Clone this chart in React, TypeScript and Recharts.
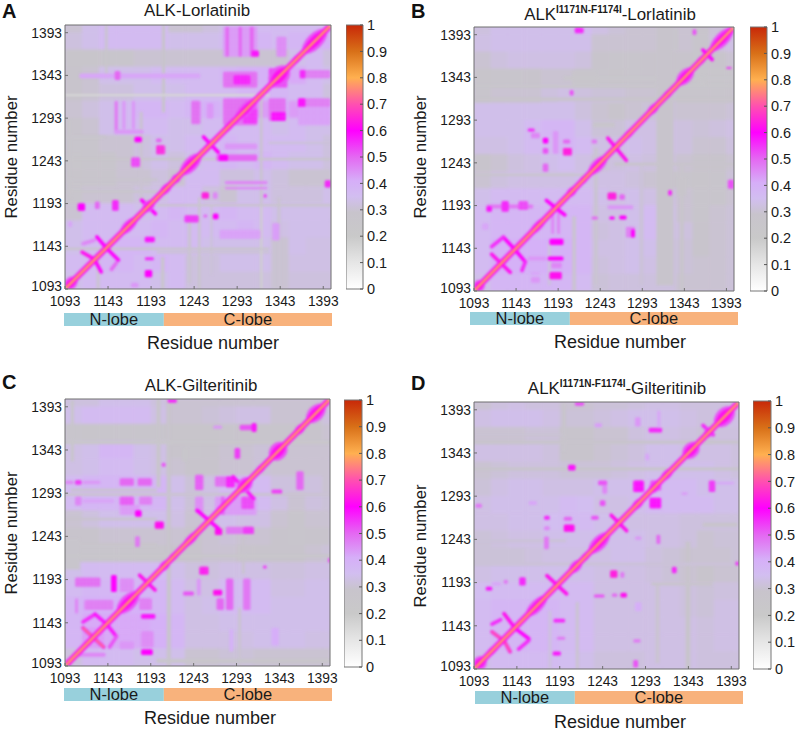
import {Bar, BarChart, LabelList, Scatter, ScatterChart, XAxis, YAxis} from 'recharts';

const FONT = '"Liberation Sans", Arial, sans-serif';
const RES_MIN = 1093;
const RES_MAX = 1402;
const CELL = 20;

const residueTicks = [1093, 1143, 1193, 1243, 1293, 1343, 1393];
const colorTicks = [0, 0.1, 0.2, 0.3, 0.4, 0.5, 0.6, 0.7, 0.8, 0.9, 1];
const colorStops: [number, string][] = [
  [0, '#ffffff'], [10, '#e6e6e6'], [20, '#c9c9c9'], [29, '#c8c4cc'], [35, '#d2bef0'], [41, '#d6aef8'],
  [50, '#e468f2'], [60, '#ff00ff'], [70, '#ff50b0'], [80, '#ffb050'], [90, '#d87018'], [100, '#c82808'],
];
const lobes = [{name: 'row', nLobe: 115.5, cLobe: 194.5}];

// background, 20 residue blocks, top row first (x 1093 -> 1402), values x100
const gridA = [
  [30, 34, 36, 36, 36, 36, 30, 30, 32, 34, 36, 36, 36, 36, 36, 38],
  [32, 34, 36, 36, 36, 36, 34, 34, 34, 36, 38, 38, 36, 38, 38, 40],
  [27, 27, 28, 28, 30, 30, 30, 30, 30, 30, 30, 30, 30, 34, 36, 32],
  [29, 30, 34, 34, 34, 36, 36, 36, 36, 38, 40, 40, 36, 42, 36, 34],
  [29, 30, 32, 32, 34, 34, 34, 36, 36, 36, 38, 38, 38, 36, 36, 32],
  [30, 32, 34, 36, 38, 38, 36, 38, 40, 38, 44, 44, 40, 44, 38, 36],
  [29, 30, 34, 36, 36, 36, 34, 34, 36, 36, 36, 36, 34, 36, 34, 34],
  [28, 28, 30, 30, 32, 34, 34, 36, 36, 38, 36, 36, 36, 36, 34, 32],
  [26, 28, 28, 30, 32, 34, 32, 34, 36, 38, 36, 38, 36, 34, 34, 32],
  [27, 28, 28, 30, 30, 32, 30, 36, 36, 32, 32, 34, 32, 30, 30, 30],
  [28, 30, 30, 30, 32, 33, 36, 36, 32, 30, 34, 34, 32, 32, 32, 34],
  [30, 36, 36, 36, 34, 36, 38, 36, 36, 38, 36, 36, 34, 34, 34, 34],
  [34, 36, 36, 36, 36, 38, 36, 36, 36, 36, 38, 36, 33, 34, 34, 34],
  [34, 36, 36, 38, 38, 36, 36, 36, 34, 34, 34, 34, 30, 34, 33, 33],
  [36, 36, 38, 38, 36, 38, 36, 32, 32, 34, 34, 34, 30, 33, 33, 33],
  [34, 36, 36, 36, 36, 34, 36, 32, 32, 32, 32, 32, 30, 32, 32, 32],
];
const gridB = [
  [32, 34, 34, 34, 34, 34, 36, 33, 31, 30, 30, 31, 30, 29, 31, 32],
  [33, 34, 34, 34, 34, 34, 34, 30, 30, 30, 30, 30, 30, 28, 32, 33],
  [30, 32, 33, 33, 33, 33, 32, 29, 28, 28, 29, 29, 29, 28, 29, 30],
  [27, 28, 28, 29, 30, 30, 29, 28, 27, 28, 29, 28, 28, 26, 26, 27],
  [28, 30, 30, 30, 32, 33, 32, 31, 31, 30, 30, 31, 28, 28, 28, 29],
  [34, 34, 34, 34, 34, 34, 32, 30, 29, 30, 31, 31, 30, 30, 30, 31],
  [34, 34, 34, 36, 38, 38, 34, 31, 31, 33, 33, 33, 32, 31, 32, 33],
  [33, 33, 34, 36, 36, 38, 36, 33, 33, 34, 33, 33, 32, 30, 30, 32],
  [29, 30, 32, 33, 34, 35, 33, 31, 32, 33, 32, 32, 30, 29, 29, 30],
  [30, 32, 33, 33, 33, 33, 34, 33, 33, 32, 30, 29, 28, 27, 28, 31],
  [34, 36, 36, 36, 36, 36, 36, 34, 33, 34, 33, 33, 30, 28, 28, 30],
  [36, 38, 38, 38, 38, 38, 38, 33, 33, 34, 36, 34, 30, 28, 30, 31],
  [36, 38, 38, 38, 38, 38, 38, 32, 33, 34, 36, 33, 32, 29, 30, 31],
  [36, 40, 40, 40, 40, 40, 38, 33, 33, 34, 34, 32, 31, 29, 30, 31],
  [36, 40, 40, 40, 40, 40, 38, 32, 33, 34, 33, 32, 31, 30, 30, 31],
  [34, 38, 38, 38, 38, 38, 36, 31, 32, 32, 32, 32, 30, 30, 30, 31],
];
const gridC = [
  [32, 32, 34, 34, 34, 32, 30, 30, 30, 30, 30, 30, 30, 30, 30, 32],
  [34, 36, 36, 36, 36, 33, 30, 30, 31, 32, 33, 33, 30, 30, 30, 32],
  [28, 27, 28, 28, 28, 28, 27, 27, 27, 28, 29, 28, 28, 28, 29, 30],
  [33, 34, 38, 38, 34, 33, 29, 28, 29, 30, 30, 31, 30, 30, 30, 30],
  [33, 34, 36, 36, 34, 33, 30, 29, 29, 30, 30, 31, 30, 30, 30, 30],
  [36, 38, 38, 38, 38, 38, 34, 31, 33, 36, 37, 36, 32, 32, 32, 30],
  [36, 38, 38, 38, 38, 38, 34, 31, 33, 38, 38, 36, 33, 30, 32, 31],
  [30, 32, 34, 34, 34, 34, 33, 30, 33, 34, 33, 33, 30, 28, 30, 30],
  [29, 29, 30, 30, 30, 30, 30, 29, 30, 31, 30, 30, 29, 28, 29, 29],
  [28, 28, 28, 28, 28, 28, 29, 29, 30, 30, 29, 29, 29, 29, 30, 31],
  [34, 36, 36, 36, 36, 36, 34, 32, 32, 33, 33, 33, 32, 32, 33, 33],
  [36, 38, 38, 38, 38, 38, 36, 33, 33, 36, 36, 36, 33, 33, 34, 34],
  [38, 40, 40, 40, 40, 38, 36, 33, 34, 36, 36, 36, 34, 34, 34, 34],
  [38, 42, 42, 42, 42, 40, 38, 33, 33, 34, 34, 34, 34, 34, 34, 34],
  [38, 42, 42, 42, 42, 40, 38, 33, 33, 33, 33, 34, 34, 34, 33, 33],
  [32, 36, 36, 36, 34, 34, 34, 30, 30, 31, 31, 30, 30, 30, 30, 30],
];
const gridD = [
  [30, 32, 33, 32, 32, 30, 30, 31, 31, 32, 33, 33, 32, 32, 32, 32],
  [33, 34, 34, 34, 33, 31, 31, 32, 33, 34, 34, 34, 33, 32, 33, 33],
  [30, 30, 30, 31, 31, 29, 29, 30, 30, 32, 33, 33, 32, 31, 32, 32],
  [33, 33, 33, 33, 32, 29, 29, 30, 31, 32, 34, 34, 33, 33, 33, 32],
  [30, 31, 32, 32, 32, 31, 31, 31, 32, 33, 34, 34, 34, 34, 33, 32],
  [31, 33, 34, 34, 33, 33, 33, 34, 34, 34, 36, 36, 36, 34, 34, 34],
  [33, 34, 34, 34, 34, 36, 35, 33, 33, 34, 36, 36, 36, 36, 34, 34],
  [33, 33, 34, 34, 35, 36, 36, 34, 34, 33, 33, 33, 32, 32, 32, 32],
  [31, 32, 33, 33, 34, 34, 34, 34, 34, 34, 33, 33, 32, 30, 31, 31],
  [31, 31, 31, 32, 33, 33, 33, 33, 34, 34, 32, 31, 30, 30, 30, 31],
  [33, 34, 34, 34, 34, 34, 34, 33, 33, 33, 32, 31, 30, 29, 30, 30],
  [35, 36, 36, 36, 36, 36, 36, 33, 33, 33, 33, 33, 32, 31, 32, 32],
  [36, 38, 38, 38, 38, 36, 36, 33, 33, 33, 33, 33, 32, 31, 33, 33],
  [36, 38, 38, 38, 38, 36, 36, 33, 33, 33, 33, 33, 33, 32, 33, 33],
  [36, 38, 38, 38, 38, 36, 36, 33, 33, 33, 33, 33, 33, 32, 33, 33],
  [34, 36, 36, 36, 36, 35, 34, 32, 32, 32, 33, 33, 33, 32, 32, 32],
];

// patches: x from, x to, y from, y to, value x100
const patchesA = [
  [1097, 1100, 1200, 1290, 27], [1130, 1133, 1093, 1130, 30], [1205, 1208, 1093, 1130, 28], [1236, 1239, 1100, 1180, 30],
  [1262, 1264, 1110, 1190, 31], [1340, 1343, 1093, 1200, 30], [1093, 1200, 1206, 1208, 27], [1093, 1200, 1220, 1222, 28],
  [1200, 1330, 1135, 1137, 30], [1180, 1183, 1200, 1300, 30], [1206, 1209, 1300, 1402, 29], [1093, 1140, 1270, 1272, 28],
  [1330, 1402, 1263, 1265, 31],
  [1093, 1330, 1319, 1321, 16], [1320, 1322, 1093, 1190, 18], [1320, 1322, 1190, 1320, 27], [1093, 1402, 1244, 1246, 26],
  [1200, 1402, 1190, 1192, 27], [1093, 1330, 1139, 1141, 27], [1140, 1142, 1340, 1402, 26], [1248, 1250, 1093, 1200, 26],
  [1277, 1316, 1365, 1400, 44], [1280, 1283, 1365, 1400, 50], [1295, 1298, 1365, 1400, 50], [1308, 1312, 1365, 1400, 50],
  [1310, 1318, 1365, 1372, 58], [1339, 1350, 1365, 1388, 46], [1110, 1250, 1340, 1345, 42],
  [1277, 1316, 1329, 1347, 50], [1289, 1308, 1333, 1343, 58], [1366, 1401, 1340, 1349, 48], [1366, 1372, 1340, 1349, 56],
  [1151, 1157, 1338, 1348, 50], [1277, 1316, 1285, 1316, 50], [1300, 1316, 1287, 1304, 56], [1330, 1349, 1290, 1316, 50],
  [1333, 1349, 1290, 1300, 60], [1364, 1401, 1306, 1316, 48], [1364, 1372, 1306, 1316, 58], [1364, 1401, 1285, 1306, 43],
  [1151, 1154, 1275, 1313, 48], [1160, 1163, 1280, 1313, 44], [1171, 1174, 1280, 1313, 44], [1151, 1184, 1275, 1279, 44],
  [1240, 1250, 1286, 1313, 50], [1258, 1265, 1293, 1310, 44], [1174, 1182, 1265, 1271, 60], [1199, 1209, 1251, 1261, 64],
  [1199, 1205, 1265, 1269, 50], [1170, 1180, 1236, 1247, 54], [1269, 1316, 1243, 1250, 50], [1272, 1282, 1243, 1250, 60],
  [1279, 1316, 1257, 1263, 44], [1279, 1328, 1216, 1219, 46], [1279, 1328, 1210, 1212, 46], [1395, 1402, 1212, 1220, 56],
  [1252, 1260, 1199, 1206, 64], [1265, 1270, 1199, 1206, 46], [1232, 1248, 1171, 1179, 54], [1265, 1271, 1175, 1181, 60],
  [1254, 1258, 1177, 1180, 50], [1273, 1320, 1152, 1162, 43], [1108, 1116, 1185, 1193, 60], [1128, 1133, 1187, 1195, 50],
  [1148, 1155, 1185, 1197, 56], [1097, 1101, 1166, 1172, 42], [1186, 1197, 1148, 1154, 58], [1186, 1196, 1127, 1130, 56],
  [1186, 1194, 1107, 1115, 60], [1170, 1178, 1095, 1100, 44], [1330, 1351, 1329, 1351, 54], [1334, 1342, 1150, 1170, 43],
  [1324, 1327, 1200, 1204, 54],
];
const patchesB = [
  [1181, 1184, 1100, 1150, 32], [1210, 1214, 1093, 1180, 30], [1236, 1240, 1100, 1260, 30], [1290, 1294, 1100, 1240, 31],
  [1338, 1342, 1093, 1240, 28], [1093, 1230, 1228, 1230, 28], [1260, 1402, 1240, 1243, 29], [1335, 1345, 1205, 1225, 27],
  [1235, 1260, 1285, 1290, 27], [1210, 1240, 1335, 1350, 27], [1360, 1368, 1335, 1345, 25], [1330, 1335, 1375, 1400, 27],
  [1093, 1402, 1316, 1319, 27], [1093, 1402, 1331, 1334, 26], [1200, 1402, 1340, 1344, 26], [1310, 1330, 1100, 1402, 29],
  [1213, 1223, 1395, 1401, 56], [1353, 1357, 1393, 1399, 52], [1207, 1211, 1322, 1328, 52], [1393, 1399, 1353, 1355, 54],
  [1157, 1165, 1280, 1283, 56], [1161, 1171, 1272, 1278, 46], [1175, 1181, 1266, 1272, 60], [1175, 1181, 1254, 1260, 52],
  [1187, 1193, 1254, 1280, 44], [1199, 1209, 1252, 1260, 64], [1199, 1207, 1266, 1270, 50], [1175, 1181, 1233, 1242, 50],
  [1233, 1239, 1266, 1270, 48], [1252, 1262, 1200, 1208, 64], [1266, 1272, 1200, 1206, 50], [1252, 1282, 1189, 1193, 44],
  [1233, 1240, 1177, 1180, 50], [1254, 1260, 1177, 1180, 60], [1266, 1274, 1177, 1181, 60], [1274, 1284, 1156, 1168, 48],
  [1280, 1284, 1156, 1165, 60], [1324, 1328, 1205, 1211, 56], [1395, 1402, 1213, 1223, 52], [1108, 1163, 1190, 1194, 48],
  [1108, 1114, 1186, 1192, 58], [1126, 1134, 1186, 1198, 56], [1146, 1157, 1188, 1198, 54], [1103, 1110, 1165, 1172, 42],
  [1185, 1188, 1160, 1195, 46], [1192, 1195, 1160, 1195, 46], [1183, 1199, 1147, 1154, 60], [1181, 1199, 1129, 1133, 60],
  [1183, 1197, 1107, 1115, 62], [1185, 1197, 1120, 1126, 46], [1157, 1179, 1129, 1133, 44], [1161, 1171, 1103, 1109, 44],
  [1161, 1171, 1112, 1115, 42],
];
const patchesC = [
  [1100, 1103, 1330, 1400, 28], [1200, 1204, 1300, 1402, 27], [1212, 1216, 1093, 1400, 29], [1295, 1298, 1093, 1160, 30],
  [1093, 1200, 1232, 1235, 27], [1093, 1402, 1290, 1293, 30], [1093, 1200, 1262, 1264, 29], [1230, 1236, 1330, 1345, 26],
  [1100, 1200, 1295, 1298, 30], [1300, 1302, 1200, 1240, 29], [1093, 1110, 1205, 1240, 28],
  [1093, 1402, 1350, 1354, 25], [1093, 1402, 1219, 1222, 25], [1200, 1402, 1097, 1101, 26], [1213, 1223, 1398, 1402, 56],
  [1297, 1316, 1366, 1372, 52], [1311, 1316, 1364, 1374, 58], [1266, 1276, 1368, 1371, 44], [1291, 1297, 1333, 1345, 54],
  [1206, 1210, 1324, 1328, 52], [1105, 1112, 1303, 1308, 54], [1114, 1134, 1304, 1307, 44], [1093, 1103, 1304, 1307, 46],
  [1157, 1173, 1302, 1310, 50], [1178, 1194, 1302, 1310, 50], [1105, 1112, 1279, 1289, 46], [1157, 1173, 1279, 1289, 52],
  [1180, 1194, 1280, 1289, 48], [1114, 1150, 1282, 1286, 42], [1157, 1180, 1268, 1279, 44], [1175, 1182, 1266, 1273, 60],
  [1198, 1208, 1252, 1260, 62], [1175, 1180, 1231, 1243, 48], [1245, 1254, 1297, 1314, 52], [1245, 1254, 1270, 1289, 46],
  [1268, 1289, 1301, 1312, 50], [1281, 1291, 1300, 1312, 58], [1268, 1316, 1268, 1289, 44], [1275, 1279, 1268, 1289, 50],
  [1299, 1313, 1275, 1289, 54], [1334, 1346, 1293, 1297, 54], [1363, 1371, 1297, 1318, 50], [1268, 1276, 1245, 1252, 62],
  [1281, 1313, 1246, 1254, 48], [1301, 1313, 1246, 1254, 54], [1400, 1402, 1213, 1218, 54], [1250, 1260, 1199, 1208, 62],
  [1324, 1328, 1206, 1209, 54], [1231, 1243, 1175, 1179, 52], [1266, 1276, 1175, 1181, 62], [1247, 1251, 1175, 1194, 44],
  [1281, 1289, 1158, 1194, 50], [1301, 1309, 1158, 1194, 48], [1270, 1278, 1158, 1171, 50], [1334, 1342, 1117, 1137, 41],
  [1285, 1289, 1110, 1135, 40], [1105, 1134, 1185, 1195, 50], [1147, 1153, 1179, 1198, 60], [1157, 1173, 1179, 1194, 46],
  [1105, 1108, 1154, 1171, 46], [1116, 1149, 1158, 1169, 48], [1180, 1194, 1158, 1171, 48], [1182, 1198, 1148, 1153, 58],
  [1182, 1196, 1115, 1133, 46], [1182, 1195, 1106, 1112, 60], [1103, 1140, 1104, 1108, 46], [1157, 1173, 1113, 1121, 44],
  [1114, 1138, 1115, 1137, 44],
];
const patchesD = [
  [1180, 1183, 1093, 1160, 32], [1212, 1215, 1093, 1170, 30], [1305, 1309, 1100, 1190, 30], [1340, 1345, 1093, 1240, 29],
  [1093, 1402, 1213, 1216, 31], [1093, 1200, 1363, 1365, 30], [1196, 1200, 1345, 1400, 29], [1093, 1200, 1240, 1243, 31],
  [1300, 1370, 1190, 1193, 29], [1360, 1400, 1258, 1262, 29],
  [1093, 1402, 1323, 1326, 28], [1093, 1402, 1354, 1357, 29], [1211, 1221, 1398, 1402, 52], [1234, 1242, 1373, 1377, 43],
  [1281, 1287, 1374, 1384, 44], [1297, 1312, 1367, 1372, 56], [1307, 1310, 1372, 1392, 42], [1203, 1211, 1323, 1329, 58],
  [1293, 1297, 1335, 1342, 42], [1238, 1248, 1306, 1311, 52], [1243, 1248, 1296, 1306, 46], [1279, 1291, 1298, 1311, 60],
  [1299, 1311, 1300, 1311, 54], [1298, 1311, 1279, 1291, 60], [1367, 1374, 1298, 1311, 54], [1374, 1396, 1307, 1309, 42],
  [1335, 1342, 1295, 1297, 44], [1157, 1166, 1283, 1287, 42], [1095, 1102, 1280, 1284, 48], [1240, 1246, 1282, 1288, 52],
  [1175, 1181, 1266, 1270, 56], [1175, 1181, 1254, 1258, 46], [1198, 1207, 1265, 1269, 50], [1198, 1210, 1252, 1260, 62],
  [1230, 1238, 1266, 1270, 52], [1175, 1180, 1232, 1246, 48], [1281, 1288, 1243, 1246, 44], [1306, 1310, 1238, 1248, 50],
  [1252, 1260, 1199, 1207, 64], [1264, 1268, 1199, 1205, 48], [1324, 1329, 1204, 1211, 56], [1398, 1402, 1213, 1217, 54],
  [1233, 1245, 1176, 1179, 52], [1254, 1260, 1177, 1180, 50], [1264, 1271, 1176, 1181, 62], [1281, 1288, 1160, 1170, 41],
  [1107, 1114, 1184, 1188, 58], [1114, 1124, 1190, 1193, 42], [1128, 1132, 1192, 1196, 48], [1146, 1153, 1190, 1199, 56],
  [1186, 1199, 1147, 1151, 56], [1190, 1199, 1127, 1130, 48], [1185, 1194, 1109, 1113, 58], [1279, 1287, 1124, 1127, 48],
  [1279, 1284, 1095, 1103, 52],
];

// off diagonal strokes: x0, y0, x1, y1, value x100
const armsA = [
  [1113, 1136, 1127, 1128, 64], [1130, 1154, 1141, 1141, 60], [1141, 1141, 1155, 1127, 60], [1127, 1128, 1135, 1113, 60],
  [1153, 1124, 1147, 1116, 50], [1114, 1146, 1127, 1150, 46], [1182, 1197, 1198, 1181, 60], [1254, 1271, 1271, 1253, 60],
];
const armsB = [
  [1128, 1156, 1142, 1141, 60], [1114, 1145, 1128, 1156, 56], [1142, 1141, 1154, 1127, 60], [1154, 1127, 1150, 1117, 56],
  [1114, 1136, 1136, 1115, 66], [1179, 1199, 1201, 1182, 60], [1252, 1272, 1274, 1246, 62], [1365, 1375, 1376, 1364, 60],
];
const armsC = [
  [1114, 1144, 1128, 1153, 56], [1128, 1153, 1142, 1141, 58], [1142, 1141, 1153, 1127, 58], [1153, 1127, 1145, 1115, 52],
  [1114, 1137, 1138, 1115, 76], [1180, 1198, 1198, 1181, 66], [1247, 1273, 1272, 1252, 60], [1289, 1312, 1313, 1287, 58],
];
const armsD = [
  [1114, 1145, 1124, 1150, 56], [1128, 1157, 1141, 1140, 62], [1141, 1140, 1157, 1128, 60], [1157, 1126, 1145, 1116, 56],
  [1114, 1136, 1126, 1127, 72], [1128, 1126, 1135, 1113, 72], [1178, 1201, 1201, 1180, 62], [1253, 1271, 1271, 1253, 64],
  [1360, 1375, 1372, 1364, 56],
];

// swollen parts of the diagonal: residue from, residue to, half width
const blobsA = [
  [1093, 1106, 7], [1158, 1176, 6], [1184, 1196, 6], [1204, 1216, 5], [1218, 1226, 5], [1228, 1250, 8], [1254, 1268, 4],
  [1275, 1292, 4], [1292, 1314, 7], [1316, 1328, 3], [1332, 1352, 11], [1356, 1368, 4], [1370, 1396, 9],
];
const blobsB = [
  [1093, 1104, 7], [1120, 1134, 4], [1160, 1178, 5], [1204, 1214, 5], [1220, 1226, 4], [1230, 1250, 7], [1270, 1284, 4],
  [1300, 1312, 5], [1318, 1328, 4], [1335, 1353, 8], [1358, 1368, 4], [1375, 1400, 8],
];
const blobsC = [
  [1093, 1100, 4], [1155, 1178, 9], [1204, 1214, 5], [1215, 1224, 4], [1232, 1248, 5], [1270, 1282, 4],
  [1295, 1310, 8], [1316, 1326, 4], [1333, 1350, 10], [1362, 1372, 5], [1376, 1395, 9],
];
const blobsD = [
  [1093, 1106, 8], [1108, 1120, 4], [1155, 1177, 7], [1205, 1218, 6], [1220, 1226, 4], [1228, 1250, 8], [1278, 1290, 5],
  [1298, 1310, 6], [1312, 1324, 5], [1338, 1354, 9], [1362, 1372, 5], [1375, 1395, 10],
];
const ridgeEnds = [RES_MIN, RES_MAX];

const panels = [
  {letter: 'A', lx: 2, ly: 0, plot: [65, 25, 266, 264], bar: [346, 25, 17, 264], lobe: [64, 313, 268, 13], grid: gridA, patches: patchesA, arms: armsA, blobs: blobsA, base: 'ALK', drug: '-Lorlatinib', tx: 197, ty: 11, xl: [213, 343], yl: [12, 157]},
  {letter: 'B', lx: 411, ly: 0, plot: [474, 27, 260, 264], bar: [750, 27, 17, 264], lobe: [470, 312, 268, 13], grid: gridB, patches: patchesB, arms: armsB, blobs: blobsB, base: 'ALK', mutant: 'I1171N-F1174I', drug: '-Lorlatinib', tx: 610, ty: 15, xl: [620, 342], yl: [421, 157]},
  {letter: 'C', lx: 2, ly: 371, plot: [65, 399, 265, 267], bar: [344, 400, 18, 267], lobe: [64, 688, 268, 13], grid: gridC, patches: patchesC, arms: armsC, blobs: blobsC, base: 'ALK', drug: '-Gilteritinib', tx: 201, ty: 386, xl: [210, 718], yl: [12, 533]},
  {letter: 'D', lx: 411, ly: 372, plot: [474, 402, 265, 267], bar: [753, 401, 18, 268], lobe: [475, 691, 268, 13], grid: gridD, patches: patchesD, arms: armsD, blobs: blobsD, base: 'ALK', mutant: 'I1171N-F1174I', drug: '-Gilteritinib', tx: 617, ty: 389, xl: [620, 722], yl: [421, 546]},
];

const hex = (c: string, i: number) => parseInt(c.slice(i, i + 2), 16);

function valueColor(v: number) {
  for (let i = 1; i < colorStops.length; i++) {
    const [v0, c0] = colorStops[i - 1];
    const [v1, c1] = colorStops[i];
    if (v <= v1) {
      const t = (v - v0) / (v1 - v0);
      const ch = (k: number) => Math.round(hex(c0, k) + (hex(c1, k) - hex(c0, k)) * t);
      return `rgb(${ch(1)},${ch(3)},${ch(5)})`;
    }
  }
  return colorStops[colorStops.length - 1][1];
}

function stroke(id: string, data: {x: number; y: number}[], color: string, width: number) {
  return (
    <Scatter
      key={id}
      data={data}
      line={{stroke: color, strokeWidth: width, strokeLinecap: 'round'}}
      shape={() => <g />}
      isAnimationActive={false}
    />
  );
}

function HeatMap({panel}: {panel: typeof panels[number]}) {
  const [left, top, width, height] = panel.plot;
  const pxX = width / (RES_MAX - RES_MIN);
  const pxY = height / (RES_MAX - RES_MIN);
  const weaveId = `weave${panel.letter}`;

  const cells = panel.grid.flatMap((row, r) =>
    row.map((v, c) => ({
      x: RES_MIN + CELL * c + CELL / 2,
      y: RES_MIN + CELL * (panel.grid.length - 1 - r) + CELL / 2,
      w: CELL,
      h: CELL,
      v,
    })),
  );
  const spots = panel.patches.map(([x0, x1, y0, y1, v]) => ({x: (x0 + x1) / 2, y: (y0 + y1) / 2, w: x1 - x0, h: y1 - y0, v}));
  const swells = panel.blobs.map(([from, to, half]) => ({x: (from + to) / 2, y: (from + to) / 2, len: (to - from) / 2, half}));
  const ridge = ridgeEnds.map(r => ({x: r, y: r}));

  const rectShape = (p: any) => {
    const {w, h, v} = p.payload;
    const box = {
      x: p.cx - (w * pxX) / 2 - 0.25,
      y: p.cy - (h * pxY) / 2 - 0.25,
      width: w * pxX + 0.5,
      height: h * pxY + 0.5,
      rx: v > 40 ? 1.5 : 0,
    };
    return (
      <g>
        <rect {...box} fill={valueColor(v)} />
        {v > 40 && w >= 9 && h >= 9 && <rect {...box} fill={`url(#${weaveId})`} />}
      </g>
    );
  };
  const swellShape = (p: any) => {
    const rx = p.payload.len * pxX * Math.SQRT2;
    const ry = p.payload.half * pxX;
    return (
      <g transform={`rotate(-45 ${p.cx} ${p.cy})`}>
        <ellipse cx={p.cx} cy={p.cy} rx={rx} ry={ry} fill={valueColor(52)} />
        <ellipse cx={p.cx} cy={p.cy} rx={rx * 0.85} ry={ry * 0.6} fill={valueColor(62)} />
      </g>
    );
  };
  const axes = [
    <XAxis key="x" type="number" dataKey="x" domain={[RES_MIN, RES_MAX]} allowDataOverflow hide />,
    <YAxis key="y" type="number" dataKey="y" domain={[RES_MIN, RES_MAX]} allowDataOverflow hide />,
  ];

  return (
    <div style={{position: 'absolute', left, top, width, height, overflow: 'hidden', background: '#cdbfe2'}}>
      <div style={{position: 'absolute', left: 0, top: 0, filter: 'blur(1.4px)'}}>
        <ScatterChart width={width} height={height} margin={{top: 0, right: 0, bottom: 0, left: 0}}>
          {axes}
          <Scatter data={cells} shape={rectShape} isAnimationActive={false} />
        </ScatterChart>
      </div>
      <div style={{position: 'absolute', left: 0, top: 0, filter: 'blur(0.8px)'}}>
        <ScatterChart width={width} height={height} margin={{top: 0, right: 0, bottom: 0, left: 0}}>
          <defs>
            <pattern id={weaveId} width="3.5" height="3.5" patternUnits="userSpaceOnUse">
              <path d="M0 0H3.5M0 0V3.5" stroke="#d8c4f4" strokeWidth="1" opacity="0.45" />
            </pattern>
          </defs>
          {axes}
          <Scatter data={spots} shape={rectShape} isAnimationActive={false} />
          {panel.arms.map(([x0, y0, x1, y1, v], i) =>
            stroke(`arm${i}`, [{x: x0, y: y0}, {x: x1, y: y1}], valueColor(Math.min(v, 62)), 3.6),
          )}
          {panel.arms.filter(a => a[4] >= 70).map(([x0, y0, x1, y1, v], i) =>
            stroke(`core${i}`, [{x: x0, y: y0}, {x: x1, y: y1}], valueColor(v), 1.6),
          )}
          <Scatter data={swells} shape={swellShape} isAnimationActive={false} />
          {stroke('ridge0', ridge, valueColor(60), 6)}
          {stroke('ridge1', ridge, valueColor(70), 3.2)}
          {stroke('ridge2', ridge, valueColor(80), 1.6)}
        </ScatterChart>
      </div>
    </div>
  );
}

// the lowest y label sits a little above its tick so it clears the x labels
function ResidueTick(p: any) {
  const value = p.payload.value;
  return (
    <text x={p.x} y={p.y + (value === RES_MIN ? -3 : 0)} dy="0.355em" textAnchor="end" fill="#1a1a1a" fontSize={13.8} fontFamily={FONT}>
      {value}
    </text>
  );
}

function Frame({panel}: {panel: typeof panels[number]}) {
  const [left, top, width, height] = panel.plot;
  const pad = {top: 11, right: 23, bottom: 27, left: 49};
  const anchors = residueTicks.map(t => ({x: t, y: t}));
  return (
    <div style={{position: 'absolute', left: left - 50, top: top - 12}}>
      <ScatterChart width={width + 74} height={height + 40} margin={pad}>
        <XAxis xAxisId="b" type="number" dataKey="x" domain={[RES_MIN, RES_MAX]} ticks={residueTicks} interval={0} height={1} tickSize={-3} tickMargin={10}
          stroke="#6f6f6f" tick={{fill: '#1a1a1a', fontSize: 13.8, fontFamily: FONT}} />
        <XAxis xAxisId="t" orientation="top" type="number" dataKey="x" domain={[RES_MIN, RES_MAX]} ticks={residueTicks} interval={0} height={1} tickSize={-3} tick={false} stroke="#6f6f6f" />
        <YAxis yAxisId="l" type="number" dataKey="y" domain={[RES_MIN, RES_MAX]} ticks={residueTicks} interval={0} width={1} tickSize={-3} tickMargin={6}
          stroke="#6f6f6f" tick={ResidueTick} />
        <YAxis yAxisId="r" orientation="right" type="number" dataKey="y" domain={[RES_MIN, RES_MAX]} ticks={residueTicks} interval={0} width={1} tickSize={-3} tick={false} stroke="#6f6f6f" />
        <Scatter xAxisId="b" yAxisId="l" data={anchors} shape={() => <g />} isAnimationActive={false} />
        <Scatter xAxisId="t" yAxisId="r" data={anchors} shape={() => <g />} isAnimationActive={false} />
      </ScatterChart>
    </div>
  );
}

function ColorBar({panel}: {panel: typeof panels[number]}) {
  const [left, top, width, height] = panel.bar;
  const gradientId = `scale${panel.letter}`;
  return (
    <div style={{position: 'absolute', left, top: top - 10}}>
      <BarChart width={width + 40} height={height + 20} data={[{v: 1}]} barCategoryGap={0} margin={{top: 10, right: 39, bottom: 10, left: 0}}>
        <defs>
          <linearGradient id={gradientId} x1="0" y1="1" x2="0" y2="0">
            {colorStops.map(([v, c]) => <stop key={v} offset={`${v}%`} stopColor={c} />)}
          </linearGradient>
        </defs>
        <XAxis hide />
        <YAxis orientation="right" type="number" domain={[0, 1]} ticks={colorTicks} interval={0} width={1} tickSize={-3} tickMargin={7}
          stroke="#555" axisLine={false} tick={{fill: '#1a1a1a', fontSize: 14.5, fontFamily: FONT}} />
        <Bar dataKey="v" fill={`url(#${gradientId})`} stroke="#777" isAnimationActive={false} />
      </BarChart>
    </div>
  );
}

function LobeBar({panel}: {panel: typeof panels[number]}) {
  const [left, top, width, height] = panel.lobe;
  const labelStyle = {fill: '#1a1a1a', fontSize: 16.5, fontFamily: FONT};
  return (
    <div style={{position: 'absolute', left, top: top - 6}}>
      <BarChart layout="vertical" width={width} height={height + 12} data={lobes} barCategoryGap={0} margin={{top: 6, right: 0, bottom: 6, left: 0}}>
        <XAxis type="number" domain={[0, 310]} hide />
        <YAxis type="category" dataKey="name" hide />
        <Bar dataKey="nLobe" stackId="l" fill="#98d0dc" isAnimationActive={false}>
          <LabelList position="center" valueAccessor={() => 'N-lobe'} style={labelStyle} />
        </Bar>
        <Bar dataKey="cLobe" stackId="l" fill="#f8b27c" isAnimationActive={false}>
          <LabelList position="center" valueAccessor={() => 'C-lobe'} style={labelStyle} />
        </Bar>
      </BarChart>
    </div>
  );
}

function Texts({panel}: {panel: typeof panels[number]}) {
  const centered = {position: 'absolute' as const, whiteSpace: 'nowrap' as const, color: '#1a1a1a', transform: 'translate(-50%, -50%)'};
  return (
    <>
      <div style={{position: 'absolute', left: panel.lx, top: panel.ly, fontSize: 20, fontWeight: 700, color: '#111'}}>{panel.letter}</div>
      <div style={{...centered, left: panel.tx, top: panel.ty, fontSize: 16.9}}>
        {panel.base}
        {panel.mutant && <sup style={{fontSize: 10, fontWeight: 700, lineHeight: 0}}>{panel.mutant}</sup>}
        {panel.drug}
      </div>
      <div style={{...centered, left: panel.xl[0], top: panel.xl[1], fontSize: 18}}>Residue number</div>
      <div style={{...centered, left: panel.yl[0], top: panel.yl[1], fontSize: 16.8, transform: 'translate(-50%, -50%) rotate(-90deg)'}}>Residue number</div>
    </>
  );
}

export default function App() {
  return (
    <div style={{position: 'absolute', left: 0, top: 0, width: 799, height: 733, background: '#fff', fontFamily: FONT, overflow: 'hidden'}}>
      {panels.map(panel => (
        <div key={panel.letter}>
          <HeatMap panel={panel} />
          <Frame panel={panel} />
          <ColorBar panel={panel} />
          <LobeBar panel={panel} />
          <Texts panel={panel} />
        </div>
      ))}
    </div>
  );
}
